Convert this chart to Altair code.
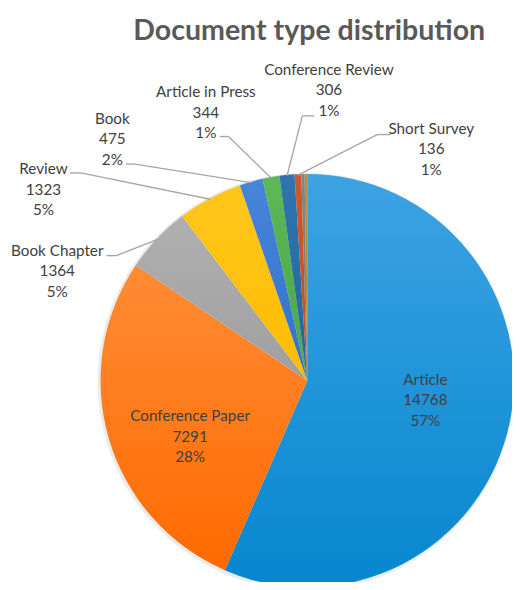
import altair as alt
import pandas as pd
import math

# ---- data ----
types = ["Article", "Conference Paper", "Book Chapter", "Review", "Book",
         "Article in Press", "Conference Review", "Short Survey", "Note", "Editorial"]
counts = [14768, 7291, 1364, 1323, 475, 344, 306, 136, 68, 52]
# top / bottom shades of each slice's fill
colors_top = ["#3DA3E3", "#FF8C35", "#B0B0B0", "#FFC61C", "#4585DA",
              "#5DB858", "#2F74AE", "#CC5A2E", "#858585", "#BE8F32"]
colors_bot = ["#0587CF", "#FF6A00", "#9F9F9F", "#FFBD00", "#3372C8",
              "#4AA845", "#24679E", "#C04E22", "#777777", "#B0822A"]
labelled = ["Article", "Conference Paper", "Book Chapter", "Review", "Book",
            "Article in Press", "Conference Review", "Short Survey"]

# ---- layout (chart pixel coordinates) ----
CX, CY, R = 304, 374, 210
W, H = 512, 574
LH = 21
# label centre (x, y of middle line); leader line start and elbow (None = inside label)
label_layout = {
    "Article":           ((424, 394), None),
    "Conference Paper":  ((185, 431), None),
    "Book Chapter":      ((50, 263), ((100, 247), (110, 247))),
    "Review":            ((36, 180), ((63, 163), (74, 163))),
    "Book":              ((106, 129), ((120, 154), (129, 154))),
    "Article in Press":  ((201, 102), ((215, 126), (224, 126))),
    "Conference Review": ((326, 79), ((311, 105), (299, 105))),
    "Short Survey":      ((430, 139), ((389, 124), (375, 124))),
}

total = sum(counts)
df = pd.DataFrame({"type": types, "count": counts, "idx": range(len(types))})

rows = []
cum = 0
mids = {}
for t, c in zip(types, counts):
    mids[t] = (cum + c / 2) / total * 2 * math.pi
    cum += c
for t in labelled:
    c = counts[types.index(t)]
    pct = round(c / total * 100)
    (lx, ly), _ = label_layout[t]
    rows.append({"type": t, "lx": lx, "ly": ly - LH, "txt": f"{t}\n{c}\n{pct}%"})
labels_df = pd.DataFrame(rows)

segs = []
for t in labelled:
    _, line = label_layout[t]
    if line is None:
        continue
    (sx, sy), (ex, ey) = line
    a = mids[t]
    px = CX + (R - 1) * math.sin(a)
    py = CY - (R - 1) * math.cos(a)
    segs.append({"x": sx, "y": sy, "x2": ex, "y2": ey})
    segs.append({"x": ex, "y": ey, "x2": px, "y2": py})
segs_df = pd.DataFrame(segs)


def grad(c1, c2):
    return {"gradient": "linear", "x1": 0, "y1": 0, "x2": 0, "y2": 1,
            "stops": [{"offset": 0, "color": c1}, {"offset": 1, "color": c2}]}


conditions = [{"test": f"datum.type === '{t}'", "value": grad(a, b)}
              for t, a, b in zip(types, colors_top, colors_bot)]

shadow = alt.Chart(pd.DataFrame({"v": [1]})).mark_arc(
    radius=R + 2, theta=0, theta2=2 * math.pi, color="#000000", opacity=0.08
).encode(x=alt.value(CX - 1), y=alt.value(CY + 1))

pie = alt.Chart(df).mark_arc(radius=R, stroke=None).encode(
    theta=alt.Theta("count:Q", stack=True),
    color=alt.ColorValue(value="#999999", condition=conditions),
    order=alt.Order("idx:Q", sort="ascending"),
    x=alt.value(CX),
    y=alt.value(CY),
)

leaders = alt.Chart(segs_df).mark_rule(color="#A6A6A6", strokeWidth=1.4).encode(
    x=alt.X("x:Q", scale=None, axis=None),
    y=alt.Y("y:Q", scale=None, axis=None),
    x2="x2:Q",
    y2="y2:Q",
)

texts = alt.Chart(labels_df).mark_text(
    font="Lato", fontSize=15.5, color="#404040", lineBreak="\n",
    align="center", baseline="middle", lineHeight=LH,
).encode(
    x=alt.X("lx:Q", scale=None, axis=None),
    y=alt.Y("ly:Q", scale=None, axis=None),
    text="txt:N",
)

title = alt.Chart(pd.DataFrame({"t": ["Document type distribution"]})).mark_text(
    font="Lato", fontSize=29, fontWeight="bold", color="#595959",
    align="center", baseline="middle",
).encode(x=alt.value(306), y=alt.value(19), text="t:N")

chart = alt.layer(shadow, pie, leaders, texts, title).properties(
    width=W, height=H, padding=0, autosize=alt.AutoSizeParams(type="none")
).configure_view(stroke=None)

chart.save("out.html", embed_options={"renderer": "svg", "actions": False})
